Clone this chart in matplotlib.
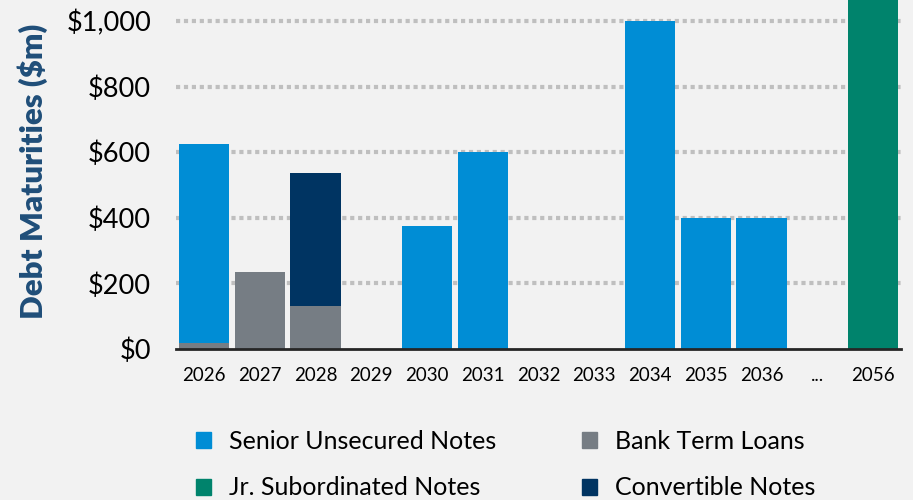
import matplotlib
matplotlib.use('Agg')
import matplotlib.pyplot as plt
import numpy as np
from matplotlib.patches import Patch

anos = ['2026', '2027', '2028', '2029', '2030', '2031', '2032', '2033',
        '2034', '2035', '2036', '...', '2056']
bank_term = np.array([18, 235, 131, 0, 0, 0, 0, 0, 0, 0, 0, 0, 0])
senior = np.array([607, 0, 0, 0, 375, 600, 0, 0, 1000, 400, 400, 0, 0])
convertivel = np.array([0, 0, 406, 0, 0, 0, 0, 0, 0, 0, 0, 0, 0])
jr_sub = np.array([0, 0, 0, 0, 0, 0, 0, 0, 0, 0, 0, 0, 1100])

c_senior = '#008DD5'
c_bank = '#767D84'
c_conv = '#003462'
c_jr = '#00836C'
fundo = '#F2F2F2'

plt.rcParams['font.family'] = ['Lato', 'DejaVu Sans']

fig = plt.figure(figsize=(9.13, 5), dpi=100, facecolor=fundo)
ax = fig.add_axes([0.1928, 0.302, 0.794, 0.698])
ax.set_facecolor(fundo)

x = np.arange(len(anos))
w = 0.9
ax.bar(x, bank_term, w, color=c_bank, zorder=3)
ax.bar(x, senior, w, bottom=bank_term, color=c_senior, zorder=3)
ax.bar(x, convertivel, w, bottom=bank_term + senior, color=c_conv, zorder=3)
ax.bar(x, jr_sub, w, bottom=bank_term + senior + convertivel, color=c_jr, zorder=3)

ax.set_xlim(-0.5, len(anos) - 0.5)
ax.set_ylim(0, 1064)
ax.set_yticks(range(0, 1001, 200))
ax.set_yticklabels(['$0', '$200', '$400', '$600', '$800', '$1,000'], fontsize=19.5)
ax.set_xticks(x)
ax.set_xticklabels(anos, fontsize=13.5)
ax.tick_params(axis='y', length=0, pad=18)
ax.tick_params(axis='x', length=0, pad=13)

for v in range(200, 1001, 200):
    ax.axhline(v, color='#BFBFBF', linewidth=3, linestyle=(0, (1, 0.9)), zorder=1)

for s in ['top', 'right', 'left']:
    ax.spines[s].set_visible(False)
ax.spines['bottom'].set_color('#262626')
ax.spines['bottom'].set_linewidth(2)
ax.spines['bottom'].set_zorder(4)

ax.set_ylabel('Debt Maturities ($m)', fontsize=22.5, fontweight='heavy', color='#1F4E79')
ax.yaxis.set_label_coords(-0.176, 0.51)

handles = [Patch(color=c_senior, label='Senior Unsecured Notes'),
           Patch(color=c_jr, label='Jr. Subordinated Notes'),
           Patch(color=c_bank, label='Bank Term Loans'),
           Patch(color=c_conv, label='Convertible Notes')]
fig.legend(handles=handles, ncol=2, loc='center', bbox_to_anchor=(0.554, 0.071),
           frameon=False, fontsize=18, handlelength=0.6, handleheight=0.6,
           handletextpad=0.75, columnspacing=3.4, labelspacing=0.95)

fig.savefig('out.png', dpi=100, facecolor=fundo)
